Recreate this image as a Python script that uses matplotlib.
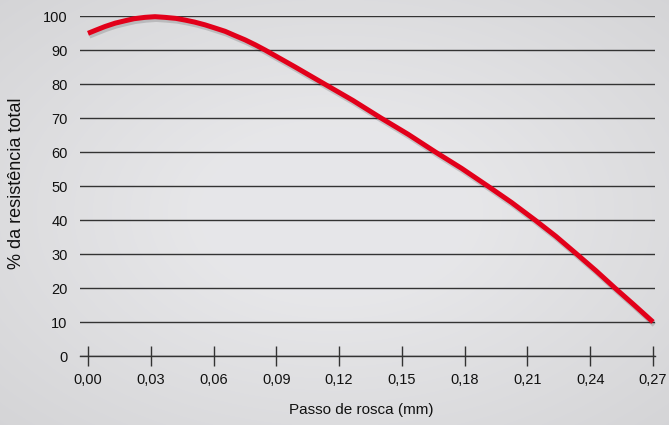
import numpy as np
import matplotlib.pyplot as plt
import matplotlib.patheffects as pe

# curve (pitch in mm, % of total strength)
passo = [0, 0.004, 0.0081, 0.013, 0.0177, 0.022, 0.0272, 0.032, 0.0368, 0.042,
         0.0464, 0.051, 0.0559, 0.060, 0.0655, 0.070, 0.075, 0.080, 0.0846,
         0.099, 0.113, 0.1265, 0.140, 0.153, 0.166, 0.1785, 0.191, 0.2023,
         0.2136, 0.2236, 0.2335, 0.2427, 0.2518, 0.261, 0.27]
resistencia = [94.9, 95.9, 96.9, 97.9, 98.6, 99.2, 99.6, 99.8, 99.6, 99.3,
               98.8, 98.2, 97.4, 96.6, 95.5, 94.3, 93.0, 91.5, 90.0,
               85.0, 80, 75.2, 70, 65.2, 60, 55.2, 50, 45.2,
               40, 35.2, 30, 25.1, 20, 15, 10]

x_ticks = [0, 0.03, 0.06, 0.09, 0.12, 0.15, 0.18, 0.21, 0.24, 0.27]
x_labels = ['0,00', '0,03', '0,06', '0,09', '0,12', '0,15', '0,18', '0,21', '0,24', '0,27']
y_ticks = list(range(0, 101, 10))

plt.rcParams['font.family'] = ['Liberation Sans', 'DejaVu Sans']

W, H = 669, 425
fig = plt.figure(figsize=(W / 100, H / 100), dpi=100)

# light concrete-like backdrop: soft radial shading
yy, xx = np.mgrid[0:H, 0:W]
r = np.sqrt(((xx - W / 2) / (W / 2)) ** 2 + ((yy - H / 2) / (H / 2)) ** 2)
shade = 0.905 - 0.07 * np.clip(r - 0.4, 0, None)
bg = np.clip(np.dstack([shade, shade, shade * 1.01]), 0, 1)
bg_ax = fig.add_axes([0, 0, 1, 1], zorder=-1)
bg_ax.imshow(bg, aspect='auto')
bg_ax.axis('off')

# axes placed in pixel coordinates: x 80..655, y 16..356 (top-down)
ax = fig.add_axes([80 / W, (H - 356) / H, 575 / W, 340 / H], zorder=1)
ax.patch.set_alpha(0)

x0 = -0.27 * 8 / 565
x1 = 0.27 + 0.27 * 2 / 565
ax.set_xlim(x0, x1)
ax.set_ylim(0, 100)

ax.plot(passo, resistencia, color='#e2001a', lw=3.6, solid_capstyle='butt',
        solid_joinstyle='round', clip_on=False, zorder=5,
        path_effects=[pe.SimpleLineShadow(offset=(1, -2), alpha=0.15, shadow_color='k'),
                      pe.Normal()])

ax.set_yticks(y_ticks)
ax.set_xticks(x_ticks)
ax.set_xticklabels(x_labels)
ax.grid(axis='y', color='#333333', lw=1.0)
ax.set_axisbelow(True)

for s in ['top', 'left', 'right']:
    ax.spines[s].set_visible(False)
ax.spines['bottom'].set_color('#333333')
ax.spines['bottom'].set_linewidth(1.0)

ax.tick_params(axis='y', length=0, pad=9, labelsize=10.5, labelcolor='#111111')
ax.tick_params(axis='x', direction='inout', length=15, width=1.0, color='#333333',
               pad=5, labelsize=10.5, labelcolor='#111111')

ax.set_xlabel('Passo de rosca (mm)', fontsize=11, color='#111111')
ax.xaxis.set_label_coords((361 - 80) / 575, -(403 - 356) / 340)
ax.set_ylabel('% da resistência total', fontsize=13, color='#111111')
ax.yaxis.set_label_coords(-(80 - 25) / 575, (356 - 183.5) / 340)

plt.savefig('out.png', dpi=100)
